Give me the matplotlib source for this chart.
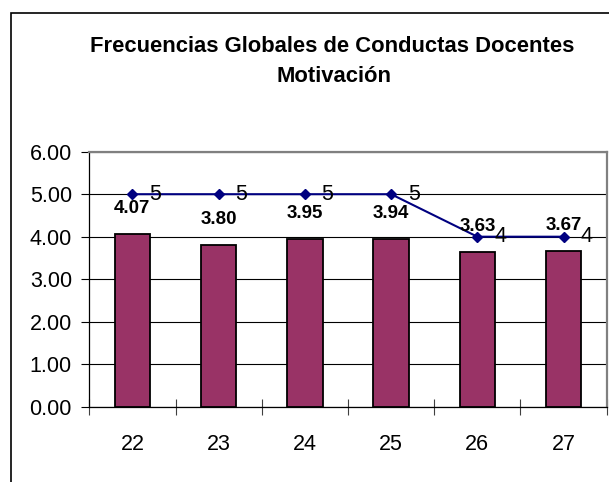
import matplotlib
matplotlib.use("Agg")
import matplotlib.pyplot as plt
from matplotlib.patches import Rectangle
import numpy as np

plt.rcParams['font.family'] = ['Liberation Sans', 'DejaVu Sans']

categories = ["22", "23", "24", "25", "26", "27"]
bar_values = [4.07, 3.80, 3.95, 3.94, 3.63, 3.67]
line_values = [5, 5, 5, 5, 4, 4]
bar_labels = ["4.07", "3.80", "3.95", "3.94", "3.63", "3.67"]
line_labels = ["5", "5", "5", "5", "4", "4"]
y_ticks = [0, 1, 2, 3, 4, 5, 6]
y_tick_labels = ["0.00", "1.00", "2.00", "3.00", "4.00", "5.00", "6.00"]
title_lines = ["Frecuencias Globales de Conductas Docentes", "Motivación"]

W, H = 609, 482
fig = plt.figure(figsize=(W / 100, H / 100), dpi=100)
fig.patch.set_facecolor("white")

# outer chart border
fig.patches.append(Rectangle((11 / W, -0.1), 1.2, 1 - 13.3 / H + 0.1,
                             transform=fig.transFigure, fill=False,
                             edgecolor="black", linewidth=1.2))

left, right = 89.3 / W, 606.7 / W
bottom, top = 1 - 406.7 / H, 1 - 151.7 / H
ax = fig.add_axes([left, bottom, right - left, top - bottom])

x = np.arange(len(categories))
ax.bar(x, bar_values, width=0.41, color="#993366", edgecolor="black",
       linewidth=1.3, zorder=3)
ax.plot(x, line_values, color="#000080", linewidth=1.5, marker="D",
        markersize=5.5, zorder=4)

for xi, v, lab in zip(x, bar_values, bar_labels):
    ax.annotate(lab, (xi, v), xytext=(0, 18.5), textcoords="offset points",
                ha="center", va="center", fontsize=13.5, fontweight="bold",
                zorder=5)
for xi, v, lab in zip(x, line_values, line_labels):
    ax.annotate(lab, (xi, v), xytext=(12, 0), textcoords="offset points",
                ha="left", va="center", fontsize=15.5, zorder=5)

ax.set_xlim(-0.5, len(categories) - 0.5)
ax.set_ylim(0, 6)
ax.set_yticks(y_ticks)
ax.set_yticklabels(y_tick_labels, fontsize=15.5)
ax.tick_params(axis="y", direction="out", length=5.5, width=0.8, pad=7)

ax.set_xticks(x)
ax.set_xticklabels(categories, fontsize=15.5)
ax.tick_params(axis="x", which="major", length=0, pad=20)
ax.set_xticks(np.arange(len(categories) + 1) - 0.5, minor=True)
ax.tick_params(axis="x", which="minor", direction="inout", length=11.5,
               width=0.8, color="#404040")

ax.yaxis.grid(True, color="black", linewidth=0.8, zorder=0)
ax.set_axisbelow(True)
for s in ("left", "bottom"):
    ax.spines[s].set_color("black")
    ax.spines[s].set_linewidth(0.9)
for s in ("top", "right"):
    ax.spines[s].set_color("#808080")
    ax.spines[s].set_linewidth(1.6)

fig.text(332 / W, 1 - 51.7 / H, title_lines[0], ha="center", va="baseline",
         fontsize=15.8, fontweight="bold")
fig.text(334 / W, 1 - 82 / H, title_lines[1], ha="center", va="baseline",
         fontsize=15.8, fontweight="bold")

fig.savefig("out.png", dpi=100)
